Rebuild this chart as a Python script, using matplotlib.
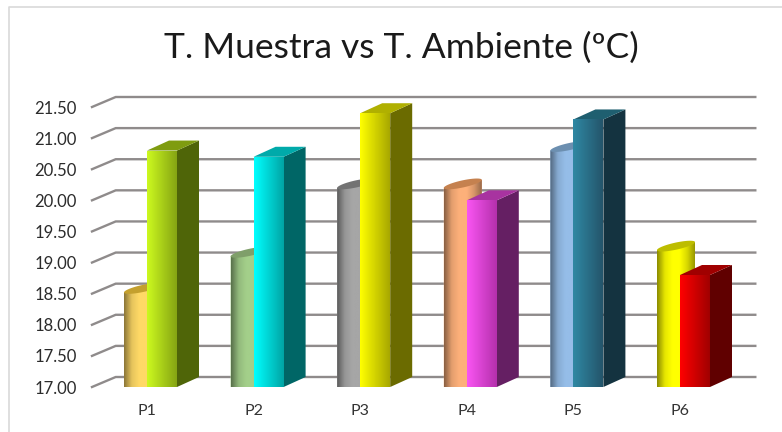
import matplotlib
matplotlib.use("Agg")
import matplotlib.pyplot as plt
import numpy as np
from matplotlib.colors import LinearSegmentedColormap, to_rgb
from matplotlib.lines import Line2D

# Data
labels = ["P1", "P2", "P3", "P4", "P5", "P6"]
muestra = [18.52, 19.10, 20.20, 20.20, 20.80, 19.20]
ambiente = [20.80, 20.70, 21.40, 20.00, 21.30, 18.80]
yticks = [17.0, 17.5, 18.0, 18.5, 19.0, 19.5, 20.0, 20.5, 21.0, 21.5]

# cylinder colours: body, top
cyl_body = ["#ffd966", "#a3cf8a", "#a6a6a6", "#fdb07a", "#95bde8", "#ffff00"]
cyl_top = ["#c4a02e", "#7f9f6a", "#737373", "#c5814f", "#6c8fb0", "#bdbd00"]
# box colours: front left, front right, side, top
box_left = ["#ccf91f", "#00ffff", "#ffff00", "#f955f2", "#2f88a3", "#ff0000"]
box_right = ["#86a513", "#00a5a5", "#a8a800", "#b530ad", "#24556b", "#a00000"]
box_side = ["#4f6508", "#006666", "#6b6b00", "#651f63", "#143340", "#600000"]
box_top = ["#7f9c10", "#00aaaa", "#b0b000", "#a833a0", "#1f5f70", "#a00000"]

W, H = 782, 432
fig = plt.figure(figsize=(W / 100, H / 100), dpi=100)
plt.rcParams["font.family"] = ["Lato", "DejaVu Sans"]

# axes = front plane of the old 3D chart
left, right, top, bottom = 93.7, 733.3, 107, 387
ax = fig.add_axes([left / W, 1 - bottom / H, (right - left) / W, (bottom - top) / H])
ax.set_xlim(-0.5, 5.5)
ax.set_ylim(17, 21.5)
PX = 6 / (right - left)   # data units per pixel, x
PY = 4.5 / (bottom - top) # data units per pixel, y


def shade(c, f):
    return tuple(min(1, v * f) for v in to_rgb(c))


def gradient(patch, stops, x0, x1, y0, y1, z):
    cmap = LinearSegmentedColormap.from_list("g", stops)
    im = ax.imshow(np.linspace(0, 1, 64).reshape(1, -1), cmap=cmap, aspect="auto",
                   extent=[x0, x1, y0, y1], zorder=z)
    im.set_clip_path(patch)


# back grid with the little diagonal from the wall
for t in yticks:
    ax.plot([-0.5 - 1.7 * PX, -0.5 + 22 * PX, 5.5 + 22 * PX], [t, t + 10 * PY, t + 10 * PY],
            color="#8f8b8b", lw=1.7, clip_on=False, zorder=1)

x = np.arange(len(labels))

# cylinders (left series)
tt = np.linspace(0, 2 * np.pi, 80)
for i, v in enumerate(muestra):
    a, b = 19 * PX, 3.6 * PY
    cx = x[i] - 23 * PX + a
    cy = v + 4 * PY
    ex = cx + a * np.cos(tt)
    ey = cy + 4 * PY * np.cos(tt) + b * np.sin(tt)
    xs = [cx - a, cx + a, cx + a, cx - a]
    ys = [17, 17, v + 8 * PY, v]
    body = ax.fill(xs, ys, color=cyl_body[i], lw=0, zorder=2, clip_on=False)[0]
    c = cyl_body[i]
    gradient(body, [shade(c, 0.55), shade(c, 0.9), c, c, shade(c, 0.85), shade(c, 0.6)],
             cx - a, cx + a, 17, v + 10 * PY, 2.1)
    ax.fill(ex, ey, color=cyl_top[i], lw=0, zorder=2.2, clip_on=False)

# boxes (right series)
w = 30 * PX
dx, dy = 22 * PX, 10 * PY
bars = ax.bar(x, np.array(ambiente) - 17, width=w, bottom=17, align="edge", color=box_left, zorder=3)
for i, v in enumerate(ambiente):
    gradient(bars[i], [box_left[i], box_right[i]], x[i], x[i] + w, 17, v, 3.1)
    ax.fill([x[i] + w, x[i] + w + dx, x[i] + w + dx, x[i] + w],
            [17, 17 + dy, v + dy, v], color=box_side[i], lw=0, zorder=3, clip_on=False)
    ax.fill([x[i], x[i] + dx, x[i] + w + dx, x[i] + w],
            [v, v + dy, v + dy, v], color=box_top[i], lw=0, zorder=3, clip_on=False)

ax.set_xlim(-0.5, 5.5)
ax.set_ylim(17, 21.5)
for s in ax.spines.values():
    s.set_visible(False)
ax.patch.set_visible(False)

ax.set_yticks(yticks)
ax.set_yticklabels(["%.2f" % t for t in yticks], fontsize=12, color="#2b2b2b")
ax.set_xticks(x)
ax.set_xticklabels(labels, fontsize=11.5, color="#333333")
ax.tick_params(axis="y", length=0, pad=12)
ax.tick_params(axis="x", length=0, pad=12)

fig.text(401 / W, 1 - 48 / H, "T. Muestra vs T. Ambiente (ºC)", ha="center", va="center",
         fontsize=25.5, color="#1a1a1a")

# chart frame, only top and left show
fig.add_artist(Line2D([9 / W, 9 / W, 1], [0, 1 - 7 / H, 1 - 7 / H], color="#d9d9d9", lw=1.2))

fig.savefig("out.png", dpi=100)
